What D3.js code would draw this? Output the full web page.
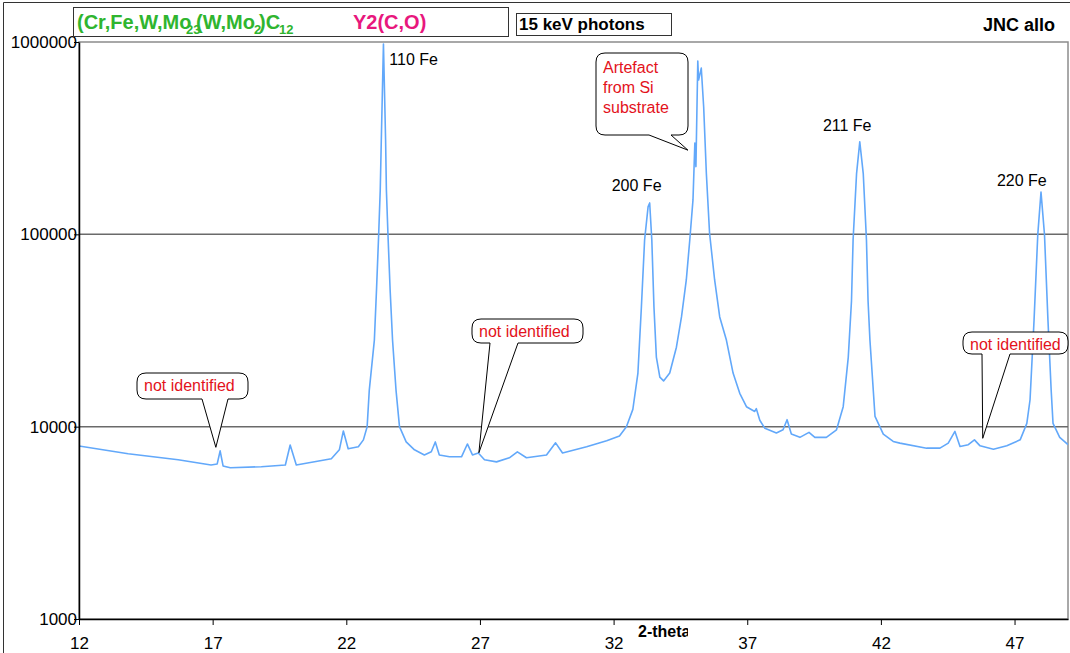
<!DOCTYPE html>
<html>
<head>
<meta charset="utf-8">
<script src="https://cdn.jsdelivr.net/npm/d3@7.9.0/dist/d3.min.js"></script>
<style>
  body { margin: 0; background: #fff; }
  svg text { font-family: "Liberation Sans", Arial, sans-serif; }
</style>
</head>
<body>
<svg id="chart" width="1070" height="653"></svg>
<script>
// diffraction scan (2-theta in degrees, counts)
const twoTheta = [
  12.00, 13.84, 15.71, 16.94, 17.17, 17.28, 17.39, 17.66, 18.82, 19.72,
  19.90, 20.13, 21.44, 21.74, 21.89, 22.07, 22.45, 22.64, 22.78, 22.86,
  23.05, 23.13, 23.21, 23.27, 23.31, 23.39, 23.47, 23.50, 23.56, 23.64,
  23.73, 23.86, 23.99, 24.24, 24.55, 24.92,
  25.18, 25.33, 25.48, 25.86, 26.31, 26.53, 26.72, 26.94, 27.17, 27.62,
  28.10, 28.40, 28.74, 29.49, 29.83, 30.09, 30.99, 31.74, 32.22, 32.48,
  32.72, 32.91, 33.04, 33.16, 33.29, 33.35, 33.43, 33.51, 33.60, 33.73,
  33.87, 34.10, 34.35, 34.54, 34.72, 34.85, 34.97, 35.04, 35.08, 35.15,
  35.18, 35.28, 35.37, 35.47, 35.59, 35.78, 35.97, 36.22, 36.47, 36.72,
  36.97, 37.28, 37.34, 37.47, 37.66, 38.09, 38.34, 38.49, 38.65, 38.97,
  39.31, 39.53, 39.96, 40.34, 40.59, 40.78, 40.90, 40.96, 41.09, 41.21,
  41.34, 41.46, 41.52, 41.59, 41.78, 42.09, 42.46, 42.71, 43.71, 44.21,
  44.52, 44.77, 44.96, 45.27, 45.50, 45.71, 46.21, 46.71, 47.21, 47.46,
  47.58, 47.73, 47.87, 47.99, 48.12, 48.25, 48.37, 48.44, 48.69, 49.00
];
const counts = [
  7930, 7230, 6730, 6320, 6400, 7490, 6250, 6110, 6190, 6320,
  8030, 6320, 6810, 7580, 9500, 7670, 7860, 8540, 10000, 15500,
  28200, 51300, 99000, 170000, 310000, 976000, 310000, 170000, 99000, 51300,
  28200, 15500, 10000, 8330, 7580, 7130,
  7400, 8330, 7130, 6970, 6970, 8130, 7130, 7300, 6730, 6560,
  6890, 7400, 6890, 7130, 8240, 7300, 7860, 8440, 8950, 10000,
  12300, 19000, 41900, 93400, 139000, 145600, 93400, 41900, 23000, 18100,
  17300, 19000, 25900, 37200, 57900, 93400, 151000, 298000, 225000, 797000,
  634000, 732000, 459000, 208000, 101600, 57900, 37200, 28200, 19000, 14900,
  12700, 12000, 12400, 10800, 9800, 9270, 9630, 10870, 9150, 8800,
  9340, 8800, 8800, 9630, 12700, 23000, 45000, 93400, 207000, 303000,
  207000, 93400, 45000, 28200, 11300, 9150, 8380, 8210, 7730, 7730,
  8210, 9450, 7890, 8060, 8540, 7950, 7640, 7950, 8540, 10400,
  13800, 35800, 100000, 166000, 100000, 35800, 15500, 10400, 8800, 8060
];

const xTicks = [12, 17, 22, 27, 32, 37, 42, 47];
const yTicks = [1000, 10000, 100000, 1000000];
const gridValues = [10000, 100000];

// peak labels: name, 2-theta, counts where the text sits
const peakNames = ["110 Fe", "200 Fe", "211 Fe", "220 Fe"];
const peakAngle = [23.61, 31.93, 39.83, 46.34];
const peakCount = [759000, 168000, 344700, 178400];

// callouts: text lines and the point of the scan they mark
const noteLines = [["not identified"], ["not identified"], ["Artefact", "from Si", "substrate"], ["not identified"]];
const noteAngle = [17.12, 26.96, 34.78, 45.81];
const noteCount = [7810, 7320, 274000, 8700];

const svg = d3.select("#chart");
const plotLeft = 79, plotRight = 1068, plotTop = 42, plotBottom = 619;

const x = d3.scaleLinear().domain([12, 49]).range([plotLeft, plotRight]);
const y = d3.scaleLog().domain([1000, 1000000]).range([plotBottom, plotTop]);

// outer chart frame (cropped on the right and bottom)
svg.append("path")
  .attr("d", "M3.5,700 V2.5 H1080")
  .attr("fill", "none")
  .attr("stroke", "#333")
  .attr("stroke-width", 1);

// plot area border
svg.append("rect")
  .attr("x", plotLeft).attr("y", plotTop)
  .attr("width", plotRight - plotLeft).attr("height", plotBottom - plotTop)
  .attr("fill", "#fff")
  .attr("stroke", "#8c8c8c")
  .attr("stroke-width", 1.5);

// gridlines
svg.selectAll(".grid")
  .data(gridValues)
  .enter()
  .append("line")
  .attr("class", "grid")
  .attr("x1", plotLeft).attr("x2", plotRight)
  .attr("y1", d => y(d)).attr("y2", d => y(d))
  .attr("stroke", "#6a6a6a")
  .attr("stroke-width", 1.5);

// scan line
svg.append("defs").append("clipPath").attr("id", "plotClip")
  .append("rect").attr("x", plotLeft).attr("y", plotTop - 2)
  .attr("width", plotRight - plotLeft).attr("height", plotBottom - plotTop + 2);

const pts = twoTheta.map((t, i) => [t, counts[i]]);
const line = d3.line().x(d => x(d[0])).y(d => y(d[1]));

svg.append("path")
  .datum(pts)
  .attr("clip-path", "url(#plotClip)")
  .attr("d", line)
  .attr("fill", "none")
  .attr("stroke", "#62a8fa")
  .attr("stroke-width", 1.6)
  .attr("stroke-linejoin", "round");

// axes
const yAxis = svg.append("g")
  .attr("transform", `translate(${plotLeft},0)`)
  .call(d3.axisLeft(y).tickValues(yTicks).tickFormat(d3.format("d")).tickSize(5).tickPadding(-3).tickSizeOuter(0));
yAxis.selectAll("text").attr("font-size", 17).attr("fill", "#000").style("font-family", '"Liberation Sans", Arial, sans-serif');
yAxis.select(".domain").attr("stroke", "#000").attr("stroke-width", 1.5);

const xAxis = svg.append("g")
  .attr("transform", `translate(0,${plotBottom})`)
  .call(d3.axisBottom(x).tickValues(xTicks).tickSize(6).tickPadding(12).tickSizeOuter(0));
xAxis.selectAll("text").attr("font-size", 17).attr("fill", "#000").style("font-family", '"Liberation Sans", Arial, sans-serif');
xAxis.select(".domain").attr("stroke", "#000").attr("stroke-width", 1.5);

// axis title, cut off like in the source
svg.append("clipPath").attr("id", "titleClip")
  .append("rect").attr("x", 600).attr("y", 620).attr("width", 88).attr("height", 30);
svg.append("text")
  .attr("x", 638).attr("y", 637)
  .attr("clip-path", "url(#titleClip)")
  .attr("font-size", 16).attr("font-weight", "bold")
  .text("2-theta");

// peak labels
svg.selectAll(".peak")
  .data(peakNames)
  .enter()
  .append("text")
  .attr("class", "peak")
  .attr("x", (d, i) => x(peakAngle[i]))
  .attr("y", (d, i) => y(peakCount[i]))
  .attr("font-size", 16)
  .text(d => d);

// callout boxes (px geometry of the box and the base of its pointer)
const boxes = [
  { x0: 137, y0: 373, x1: 248, y1: 399, b0: 202, b1: 228 },
  { x0: 472, y0: 319, x1: 583, y1: 343, b0: 490, b1: 518 },
  { x0: 596, y0: 53, x1: 688, y1: 135, b0: 649, b1: 671 },
  { x0: 963, y0: 332, x1: 1068, y1: 354, b0: 982, b1: 1010 }
];

function calloutPath(b, tx, ty) {
  const r = 9;
  return `M${b.x0 + r},${b.y0} H${b.x1 - r} Q${b.x1},${b.y0} ${b.x1},${b.y0 + r}` +
    ` V${b.y1 - r} Q${b.x1},${b.y1} ${b.x1 - r},${b.y1}` +
    ` H${b.b1} L${tx},${ty} L${b.b0},${b.y1}` +
    ` H${b.x0 + r} Q${b.x0},${b.y1} ${b.x0},${b.y1 - r}` +
    ` V${b.y0 + r} Q${b.x0},${b.y0} ${b.x0 + r},${b.y0} Z`;
}

noteLines.forEach((lines, i) => {
  const b = boxes[i];
  const tx = x(noteAngle[i]), ty = y(noteCount[i]);
  const g = svg.append("g");
  g.append("path")
    .attr("d", calloutPath(b, tx, ty))
    .attr("fill", "#fff")
    .attr("stroke", "#000")
    .attr("stroke-width", 1);
  g.selectAll("text")
    .data(lines)
    .enter()
    .append("text")
    .attr("x", b.x0 + 7)
    .attr("y", (d, k) => b.y0 + (lines.length > 1 ? 20 : 18) + k * 20)
    .attr("font-size", 16)
    .attr("fill", "#e3121b")
    .text(d => d);
});

// header boxes
svg.append("rect")
  .attr("x", 73.5).attr("y", 7.5).attr("width", 435).attr("height", 29)
  .attr("fill", "#fff").attr("stroke", "#333");

// the two phase formulas sit on top of each other in the source
const phase = svg.append("text")
  .attr("y", 29).attr("font-size", 20).attr("font-weight", "bold").attr("fill", "#2fb52f");
phase.append("tspan").attr("x", 77).text("(Cr,Fe,W,Mo");
phase.append("tspan").attr("x", 186).attr("dy", 5).attr("font-size", 13).text("23");
phase.append("tspan").attr("x", 196).attr("dy", -5).text("(W,Mo");
phase.append("tspan").attr("x", 254).attr("dy", 5).attr("font-size", 13).text("2");
phase.append("tspan").attr("x", 259).attr("dy", -5).text(")C");
phase.append("tspan").attr("x", 279).attr("dy", 5).attr("font-size", 13).text("12");

svg.append("text")
  .attr("x", 353).attr("y", 29)
  .attr("font-size", 20).attr("font-weight", "bold").attr("fill", "#e8177d")
  .text("Y2(C,O)");

svg.append("rect")
  .attr("x", 516.5).attr("y", 13.5).attr("width", 155).attr("height", 22)
  .attr("fill", "#fff").attr("stroke", "#333");
svg.append("text")
  .attr("x", 519).attr("y", 30)
  .attr("font-size", 17).attr("font-weight", "bold")
  .text("15 keV photons");

svg.append("text")
  .attr("x", 1055).attr("y", 31)
  .attr("text-anchor", "end")
  .attr("font-size", 18).attr("font-weight", "bold")
  .text("JNC allo");
</script>
</body>
</html>
